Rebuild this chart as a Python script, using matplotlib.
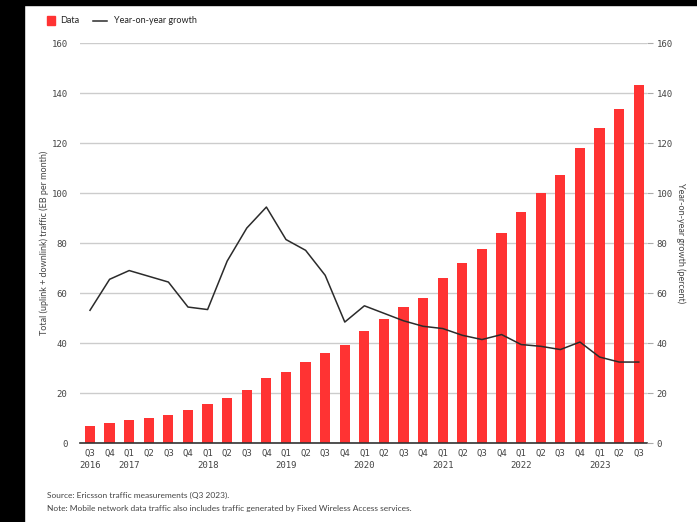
#mobile data traffic, quarterly bars + yoy growth line

#libraries
import numpy as np
import matplotlib
matplotlib.use('Agg')
from matplotlib import pyplot as plt
from matplotlib.patches import Rectangle
from matplotlib.lines import Line2D

######################################data
quarters = ['Q3', 'Q4', 'Q1', 'Q2', 'Q3', 'Q4', 'Q1', 'Q2', 'Q3', 'Q4',
            'Q1', 'Q2', 'Q3', 'Q4', 'Q1', 'Q2', 'Q3', 'Q4', 'Q1', 'Q2',
            'Q3', 'Q4', 'Q1', 'Q2', 'Q3', 'Q4', 'Q1', 'Q2', 'Q3']
years = ['2016', '', '2017', '', '', '', '2018', '', '', '',
         '2019', '', '', '', '2020', '', '', '', '2021', '',
         '', '', '2022', '', '', '', '2023', '', '']
traffic = [6.8, 8.3, 9.3, 10.3, 11.2, 13.2, 15.6, 18.0, 21.5, 26.1,
           28.7, 32.4, 36.3, 39.3, 44.8, 49.7, 54.5, 58.3, 66.0, 72.0,
           77.6, 84.1, 92.5, 100.3, 107.5, 118.3, 126.0, 133.9, 143.2]
growth = [53.2, 65.6, 69.1, 66.8, 64.5, 54.5, 53.5, 72.9, 86.1, 94.5,
          81.5, 77.2, 67.2, 48.5, 55.0, 52.0, 49.0, 46.8, 45.9, 43.2,
          41.5, 43.5, 39.5, 38.8, 37.5, 40.5, 34.5, 32.5, 32.5]
yticks = [0, 20, 40, 60, 80, 100, 120, 140, 160]
legend_labels = ['Data', 'Year-on-year growth']

source = 'Source: Ericsson traffic measurements (Q3 2023).'
note = 'Note: Mobile network data traffic also includes traffic generated by Fixed Wireless Access services.'

#####################################style
red = '#ff3333'
line_col = '#2b2b2b'
grey_txt = '#444444'
mono = 'DejaVu Sans Mono'
sans = 'Lato'

fig = plt.figure(figsize=(6.97, 5.22), dpi=100)
W, H = 697., 522.

#black strips at the edges of the screenshot
fig.patches.append(Rectangle((0, 0), 24/W, 1, transform=fig.transFigure, color='black', zorder=0))
fig.patches.append(Rectangle((0, 1-5/H), 1, 5/H, transform=fig.transFigure, color='black', zorder=0))

ax = fig.add_axes([80/W, 1-443.3/H, (647-80)/W, 400/H])
x = np.arange(len(traffic))
ax.bar(x, traffic, width=0.52, color=red, zorder=2)
ax.set_xlim(-0.51, 28.42)
ax.set_ylim(0, 160)
ax.set_yticks(yticks)
ax.grid(axis='y', color='#cccccc', linewidth=1, zorder=0)
ax.set_axisbelow(True)
for s in ['left', 'right', 'top']:
    ax.spines[s].set_visible(False)
ax.spines['bottom'].set_color('#333333')
ax.spines['bottom'].set_linewidth(1.2)

labels = [q + '\n' + y for q, y in zip(quarters, years)]
ax.set_xticks(x)
ax.set_xticklabels(labels, fontfamily=mono, fontsize=6.5, color=grey_txt, linespacing=1.5)
ax.tick_params(axis='x', length=0, pad=4)
ax.tick_params(axis='y', length=0, pad=9, labelsize=6.5, labelcolor=grey_txt)
for t in ax.get_yticklabels():
    t.set_fontfamily(mono)
ax.set_ylabel('Total (uplink + downlink) traffic (EB per month)', fontfamily=sans,
              fontsize=6.5, color=grey_txt, labelpad=2)

ax2 = ax.twinx()
ax2.plot(x, growth, color=line_col, linewidth=1.1, zorder=3)
ax2.set_ylim(0, 160)
ax2.set_yticks(yticks)
for s in ['left', 'right', 'top', 'bottom']:
    ax2.spines[s].set_visible(False)
ax2.tick_params(axis='y', length=4, width=0.8, color='#aaaaaa', pad=3,
                labelsize=6.5, labelcolor=grey_txt)
for t in ax2.get_yticklabels():
    t.set_fontfamily(mono)
ax2.set_ylabel('Year-on-year growth (percent)', fontfamily=sans, fontsize=6.5,
               color=grey_txt, rotation=270, labelpad=9)

#legend, drawn by hand in pixel-ish figure coords
ly = 1 - 20.5/H
fig.patches.append(Rectangle((47/W, ly - 4/H), 8/W, 8/H, transform=fig.transFigure,
                             color=red))
fig.text(60/W, ly, legend_labels[0], fontfamily=sans, fontsize=6.5, color='#222222', va='center')
fig.lines.append(Line2D([93/W, 107/W], [ly, ly], transform=fig.transFigure,
                        color=line_col, linewidth=1.1))
fig.text(114/W, ly, legend_labels[1], fontfamily=sans, fontsize=6.5, color='#222222', va='center')

#footer
fig.text(47/W, 1-495/H, source, fontfamily=sans, fontsize=6, color=grey_txt, va='center')
fig.text(47/W, 1-508/H, note, fontfamily=sans, fontsize=6, color=grey_txt, va='center')

plt.savefig('out.png', dpi=100)
